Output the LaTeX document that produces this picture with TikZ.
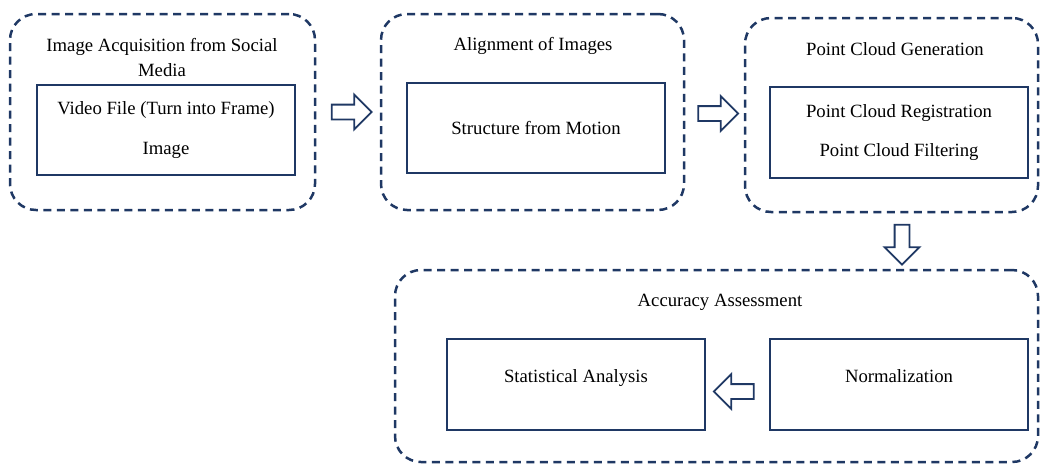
\documentclass[tikz,border=0pt]{standalone}
\usepackage{fontspec}
\setmainfont{Liberation Serif}
\usetikzlibrary{shapes.arrows, positioning, calc}
\definecolor{navy}{RGB}{31,56,100}

\begin{document}
\begin{tikzpicture}[x=1pt, y=-1pt,
	font=\fontsize{18.7}{25}\selectfont,
	group/.style={draw=navy, line width=2.5pt, dash pattern=on 8pt off 5.5pt, rounded corners=26pt},
	stage/.style={draw=navy, line width=2pt, align=center, inner sep=0pt, minimum width=258pt, minimum height=90pt},
	blockarrow/.style={single arrow, draw=navy, line width=1.8pt, inner sep=6.5pt, single arrow head extend=10pt, single arrow tip angle=90, minimum height=40pt}]

	\useasboundingbox (0,0) rectangle (1040,464);

%dashed groups
	\node [group, minimum width=305pt, minimum height=196pt] (g1) at (162.5,112){};
	\node [group, minimum width=303pt, minimum height=196pt] (g2) at (532.5,112){};
	\node [group, minimum width=293pt, minimum height=194pt] (g3) at (891.5,115){};
	\node [group, minimum width=643pt, minimum height=192pt] (g4) at (716.5,366){};

%group titles
	\node [align=center] (t1) at (162,57.5){Image Acquisition from Social\\Media};
	\node [] (t2) at (533,46){Alignment of Images};
	\node [] (t3) at (895,49){Point Cloud Generation};
	\node [] (t4) at (720,302){Accuracy Assessment};

%inner boxes
	\node [stage] (b1) at (166,130){Video File (Turn into Frame)\\[15pt]Image};
	\node [stage] (b2) at (536,128){Structure from Motion};
	\node [stage, minimum height=91pt] (b3) at (899,132.5){Point Cloud Registration\\[14pt]Point Cloud Filtering};
	\node [stage, minimum height=91pt] (b4) at (576,384.5){};
	\node [stage, minimum height=91pt] (b5) at (899,384.5){};
	\node [anchor=base] (sa) at ([yshift=2.5pt]b4.center){Statistical Analysis};
	\node [anchor=base] (nz) at ([yshift=2.5pt]b5.center){Normalization};

%arrows
	\coordinate (m3) at ($(g3.south)!0.5!(g4.north)$);
	\node [blockarrow] (a1) at ($(g1.east)!0.5!(g2.west)$){};
	\node [blockarrow] (a2) at ($(g2.east)!0.5!(g3.west)$){};
	\node [blockarrow, shape border rotate=270] (a3) at ([xshift=3pt]m3 -| b3.center){};
	\node [blockarrow, shape border rotate=180] (a4) at ([yshift=-7pt]$(b4.east)!0.5!(b5.west)$){};

\end{tikzpicture}
\end{document}
